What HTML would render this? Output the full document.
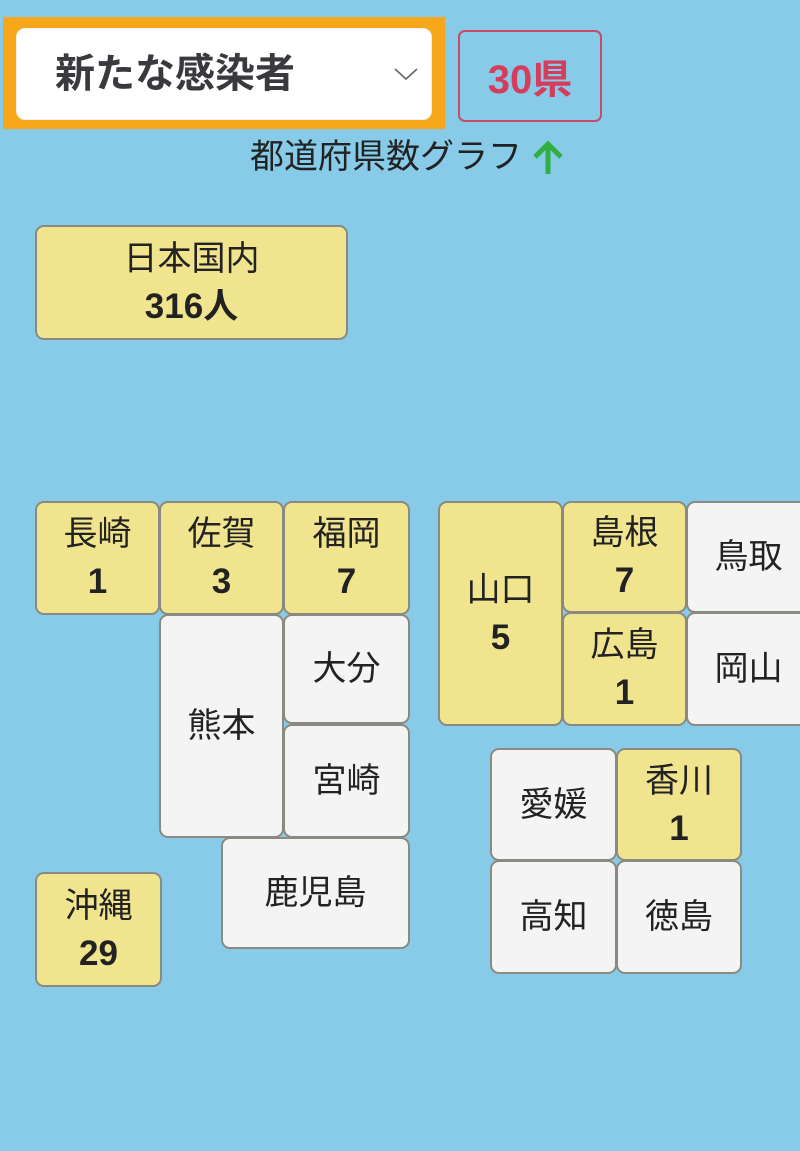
<!DOCTYPE html>
<html><head><meta charset="utf-8"><style>
html,body{margin:0;padding:0}
body{width:800px;height:1151px;background:#87cbe8;position:relative;overflow:hidden;font-family:"Liberation Sans","Noto Sans CJK JP",sans-serif;color:#222}
.t{position:absolute;box-sizing:border-box;border:2px solid #8a8a80;border-radius:9px;background:#f4f4f4;display:flex;flex-direction:column;align-items:center;justify-content:center;font-size:34px;line-height:48px}
.y{background:#f0e48e}
.t b{font-weight:bold;font-size:35px}
</style></head><body>
<div style="position:absolute;left:3px;top:17px;width:442px;height:112px;background:#f7a81a"></div>
<div style="position:absolute;left:16px;top:28px;width:416px;height:92px;background:#fff;border-radius:9px;box-sizing:border-box;border:1px solid #eee"></div>
<div style="position:absolute;left:55px;top:48px;font-size:40px;font-weight:bold;color:#3a3a3e;line-height:52px">新たな感染者</div>
<svg style="position:absolute;left:393px;top:66px" width="26" height="16"><polyline points="2,3 13,13 24,3" fill="none" stroke="#666" stroke-width="1.6"/></svg>
<div style="position:absolute;left:458px;top:30px;width:144px;height:92px;box-sizing:border-box;border:2px solid #c84a66;border-radius:7px;display:flex;align-items:center;justify-content:center;color:#d63c5c;font-size:40px;font-weight:bold">30県</div>
<div style="position:absolute;left:250px;top:134px;font-size:34px;line-height:46px;color:#222;white-space:nowrap">都道府県数グラフ</div>
<svg style="position:absolute;left:530px;top:138px" width="40" height="38"><line x1="18" y1="6" x2="18" y2="36" stroke="#2fb040" stroke-width="5"/><polyline points="5,19 18,6 31,19" fill="none" stroke="#2fb040" stroke-width="5"/></svg>

<div class="t y" style="left:35px;top:225px;width:313px;height:115px"><span>日本国内</span><b>316人</b></div>

<div class="t y" style="left:35px;top:501px;width:125px;height:114px"><span>長崎</span><b>1</b></div>
<div class="t y" style="left:159px;top:501px;width:125px;height:114px"><span>佐賀</span><b>3</b></div>
<div class="t y" style="left:283px;top:501px;width:127px;height:114px"><span>福岡</span><b>7</b></div>
<div class="t" style="left:159px;top:614px;width:125px;height:224px"><span>熊本</span></div>
<div class="t" style="left:283px;top:614px;width:127px;height:110px"><span>大分</span></div>
<div class="t" style="left:283px;top:724px;width:127px;height:114px"><span>宮崎</span></div>
<div class="t" style="left:221px;top:837px;width:189px;height:112px"><span>鹿児島</span></div>
<div class="t y" style="left:35px;top:872px;width:127px;height:115px"><span>沖縄</span><b>29</b></div>

<div class="t y" style="left:438px;top:501px;width:125px;height:225px"><span>山口</span><b>5</b></div>
<div class="t y" style="left:562px;top:501px;width:125px;height:112px"><span>島根</span><b>7</b></div>
<div class="t" style="left:686px;top:501px;width:125px;height:112px"><span>鳥取</span></div>
<div class="t y" style="left:562px;top:612px;width:125px;height:114px"><span>広島</span><b>1</b></div>
<div class="t" style="left:686px;top:612px;width:125px;height:114px"><span>岡山</span></div>

<div class="t" style="left:490px;top:748px;width:127px;height:113px"><span>愛媛</span></div>
<div class="t y" style="left:616px;top:748px;width:126px;height:113px"><span>香川</span><b>1</b></div>
<div class="t" style="left:490px;top:860px;width:127px;height:114px"><span>高知</span></div>
<div class="t" style="left:616px;top:860px;width:126px;height:114px"><span>徳島</span></div>
</body></html>
